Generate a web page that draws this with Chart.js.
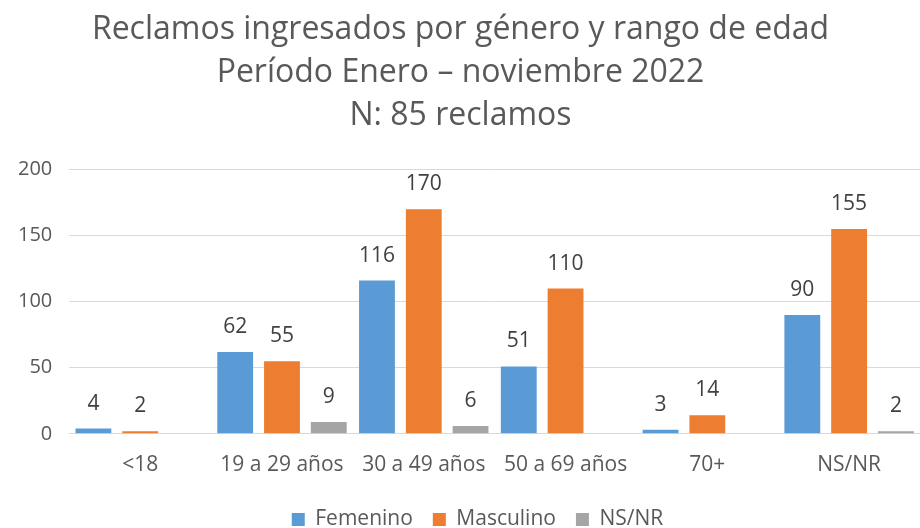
<!DOCTYPE html>
<html>
<head>
<meta charset="utf-8">
<script src="https://cdn.jsdelivr.net/npm/chart.js@4"></script>
<style>
  html, body { margin: 0; padding: 0; background: #fff; }
  #wrap { width: 920px; height: 528px; }
</style>
</head>
<body>
<div id="wrap"><canvas id="grafico" width="920" height="528"></canvas></div>
<script>
const categorias = ['<18', '19 a 29 años', '30 a 49 años', '50 a 69 años', '70+', 'NS/NR'];
const femenino = [4, 62, 116, 51, 3, 90];
const masculino = [2, 55, 170, 110, 14, 155];
const nsnr = [null, 9, 6, null, null, 2];
const ticksY = [0, 50, 100, 150, 200];

const fuente = "'Open Sans', 'Noto Sans', sans-serif";

// etiquetas de valor encima de cada barra
const etiquetas = {
    id: 'etiquetas',
    afterDatasetsDraw(chart) {
        const c = chart.ctx;
        c.save();
        c.font = '21px ' + fuente;
        c.fillStyle = '#404040';
        c.textAlign = 'center';
        c.textBaseline = 'middle';
        chart.data.datasets.forEach((ds, i) => {
            const meta = chart.getDatasetMeta(i);
            meta.data.forEach((bar, j) => {
                const v = ds.data[j];
                if (v === null || v === undefined) return;
                c.fillText(String(v), bar.x, bar.y - 25);
            });
        });
        c.restore();
    }
};

// la leyenda del original no esta centrada, se corre un poco a la derecha
const moverLeyenda = {
    id: 'moverLeyenda',
    afterLayout(chart) {
        const lg = chart.legend;
        lg.left += 17;
        lg.right += 17;
    }
};

const ctx = document.getElementById('grafico').getContext('2d');

new Chart(ctx, {
    type: 'bar',
    data: {
        labels: categorias,
        datasets: [
            { label: 'Femenino', data: femenino, backgroundColor: '#5B9BD5' },
            { label: 'Masculino', data: masculino, backgroundColor: '#ED7D31' },
            { label: 'NS/NR', data: nsnr, backgroundColor: '#A5A5A5' }
        ]
    },
    options: {
        responsive: false,
        animation: false,
        categoryPercentage: 0.99,
        barPercentage: 0.766,
        layout: { padding: { left: 1, right: 0, top: 0, bottom: -12 } },
        plugins: {
            title: {
                display: true,
                text: ['Reclamos ingresados por género y rango de edad', 'Período Enero – noviembre 2022', 'N: 85 reclamos'],
                color: '#595959',
                font: { family: fuente, size: 32, weight: 'normal', lineHeight: 1.33 },
                padding: { top: 9, bottom: 33 }
            },
            legend: {
                position: 'bottom',
                labels: {
                    color: '#595959',
                    font: { family: fuente, size: 21 },
                    boxWidth: 13,
                    boxHeight: 13,
                    padding: 20
                }
            },
            tooltip: { enabled: false }
        },
        scales: {
            x: {
                grid: { display: false },
                border: { display: true, color: '#D9D9D9' },
                ticks: { color: '#595959', font: { family: fuente, size: 21 }, padding: 11 }
            },
            y: {
                min: 0,
                max: 200,
                afterBuildTicks(axis) {
                    axis.ticks = ticksY.map(v => ({ value: v }));
                },
                grid: { color: '#D9D9D9', lineWidth: 1, drawTicks: false },
                border: { display: false },
                ticks: { color: '#595959', font: { family: fuente, size: 20 }, padding: 17 }
            }
        }
    },
    plugins: [etiquetas, moverLeyenda]
});
</script>
</body>
</html>
